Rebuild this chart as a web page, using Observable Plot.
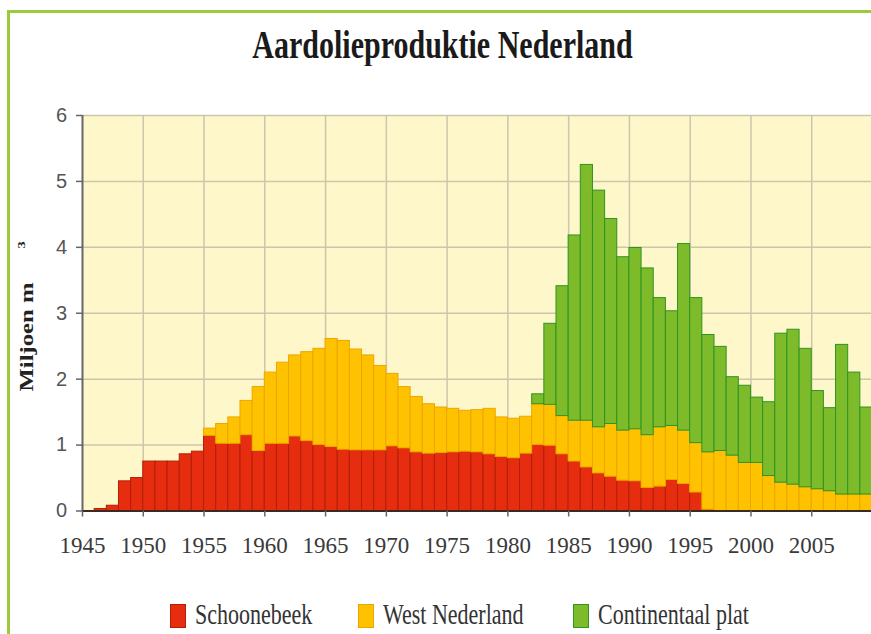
<!DOCTYPE html>
<html><head><meta charset="utf-8">
<script src="https://cdn.jsdelivr.net/npm/d3@7"></script>
<script src="https://cdn.jsdelivr.net/npm/@observablehq/plot@0.6"></script>
<style>
html,body{margin:0;padding:0;background:#fff;}
#wrap{position:relative;width:871px;height:634px;overflow:hidden;background:#fff;}
#frame{position:absolute;left:7px;top:10px;width:1000px;height:1000px;border-left:3px solid #9BCB3A;border-top:3px solid #9BCB3A;}
#chart{position:absolute;left:0;top:0;max-width:none !important;}
#title{position:absolute;left:0;top:33px;width:885px;text-align:center;font:bold 30px "Liberation Serif";line-height:30px;color:#1a1a1a;transform:scaleY(1.3);transform-origin:50% 25px;white-space:nowrap;}
.ylab{position:absolute;white-space:nowrap;font-family:"Liberation Serif";font-weight:bold;color:#222;}
.sw{position:absolute;top:604px;width:14px;height:22px;border:1px solid;}
.lt{position:absolute;top:606px;font:22px "Liberation Serif";line-height:22px;color:#333;transform:scaleY(1.3);transform-origin:0 18px;white-space:nowrap;}
</style></head><body><div id="wrap">
<div id="frame"></div>
<div id="title">Aardolieproduktie Nederland</div>
<div class="ylab" id="ylab1" style="left:27px;top:337px;font-size:19px;transform:translate(-50%,-50%) rotate(-90deg) scaleX(1.3);">Miljoen m</div>
<div class="ylab" id="ylab2" style="left:21px;top:245px;font-size:11px;transform:translate(-50%,-50%) rotate(-90deg) scaleX(1.3);">3</div>
<div id="legend"></div>
</div>
<script>
const years = d3.range(1945, 2010);
const seriesNames = ["Schoonebeek", "West Nederland", "Continentaal plat"];
const schoonebeek = [
  0, 0.03, 0.08, 0.45, 0.50,
  0.75, 0.75, 0.75, 0.86, 0.90,
  1.14, 1.02, 1.02, 1.15, 0.91,
  1.02, 1.02, 1.13, 1.06, 1.00,
  0.97, 0.93, 0.92, 0.92, 0.92,
  0.98, 0.95, 0.89, 0.87, 0.88,
  0.89, 0.90, 0.89, 0.86, 0.82,
  0.80, 0.87, 1.00, 0.99, 0.86,
  0.75, 0.66, 0.57, 0.52, 0.46,
  0.45, 0.35, 0.37, 0.47, 0.41,
  0.28, 0.02, 0, 0, 0,
  0, 0, 0, 0, 0,
  0, 0, 0, 0, 0
];
const westNederland = [
  0, 0, 0, 0, 0,
  0, 0, 0, 0, 0,
  0.11, 0.30, 0.40, 0.52, 0.97,
  1.08, 1.23, 1.23, 1.35, 1.46,
  1.64, 1.65, 1.53, 1.44, 1.28,
  1.10, 0.93, 0.84, 0.75, 0.69,
  0.66, 0.62, 0.64, 0.69, 0.60,
  0.60, 0.56, 0.62, 0.62, 0.58,
  0.62, 0.71, 0.70, 0.80, 0.76,
  0.79, 0.80, 0.90, 0.82, 0.81,
  0.75, 0.87, 0.91, 0.84, 0.73,
  0.73, 0.53, 0.43, 0.40, 0.36,
  0.33, 0.30, 0.25, 0.25, 0.25
];
const continentaalPlat = [
  0, 0, 0, 0, 0,
  0, 0, 0, 0, 0,
  0, 0, 0, 0, 0,
  0, 0, 0, 0, 0,
  0, 0, 0, 0, 0,
  0, 0, 0, 0, 0,
  0, 0, 0, 0, 0,
  0, 0, 0.15, 1.23, 1.97,
  2.81, 3.88, 3.59, 3.11, 2.63,
  2.75, 2.53, 1.96, 1.74, 2.83,
  2.20, 1.78, 1.58, 1.19, 1.17,
  0.99, 1.12, 2.26, 2.35, 2.10,
  1.49, 1.26, 2.27, 1.85, 1.32
];
const xTickYears = [1945, 1950, 1955, 1960, 1965, 1970, 1975, 1980, 1985, 1990, 1995, 2000, 2005];
const yTickValues = [0, 1, 2, 3, 4, 5, 6];

const fillColors = {"Schoonebeek": "#E62D10", "West Nederland": "#FFC200", "Continentaal plat": "#7DBB2B"};
const strokeColors = {"Schoonebeek": "#B41E08", "West Nederland": "#EDA600", "Continentaal plat": "#2F9420"};

const seriesValues = [schoonebeek, westNederland, continentaalPlat];
const rows = [];
seriesNames.forEach((s, k) => years.forEach((yr, i) => rows.push({year: yr, series: s, value: seriesValues[k][i]})));

const chart = Plot.plot({
  width: 900, height: 634,
  marginLeft: 82, marginRight: 28, marginTop: 115, marginBottom: 123.5,
  x: {domain: [1945, 2010], axis: null},
  y: {domain: [0, 6], axis: null},
  color: {type: "identity"},
  style: {background: "transparent", overflow: "visible", maxWidth: "none"},
  marks: [
    Plot.frame({fill: "#FEF7CA", stroke: null}),
    Plot.ruleY(yTickValues, {stroke: "#CCC6AB", strokeWidth: 1.5}),
    Plot.ruleX(xTickYears.slice(1), {stroke: "#CCC6AB", strokeWidth: 1.5}),
    Plot.rectY(rows, {
      filter: d => d.value > 0,
      x1: "year", x2: d => d.year + 1, y: "value",
      fill: d => fillColors[d.series], stroke: d => strokeColors[d.series], strokeWidth: 1
    }),
    Plot.ruleX([1945], {stroke: "#666", strokeWidth: 2}),
    Plot.ruleY([0], {stroke: "#3a2a20", strokeWidth: 2}),
    Plot.ruleY(yTickValues, {x1: 1945, x2: 1945, insetLeft: -6, stroke: "#666", strokeWidth: 1.5}),
    Plot.ruleX(xTickYears, {y1: 0, y2: 0, insetBottom: -6, stroke: "#666", strokeWidth: 1.5}),
    Plot.text(xTickYears, {x: d => d, y: 0, text: d => String(d), dy: 34.5, fontFamily: "Liberation Serif", fontSize: 23, fill: "#3a3a3a", ariaLabel: "xticklabels"}),
    Plot.text(yTickValues, {x: 1945, y: d => d, text: d => String(d), dx: -21, fontFamily: "Liberation Sans", fontSize: 20, fill: "#555", ariaLabel: "yticklabels"})
  ]
});
chart.id = "chart";
chart.style.maxWidth = "none";
document.getElementById("wrap").appendChild(chart);
d3.select(chart).selectAll('g[aria-label="xticklabels"] text').attr("textLength", 36).attr("lengthAdjust", "spacingAndGlyphs");
d3.select(chart).selectAll('g[aria-label="yticklabels"] text').attr("textLength", 10).attr("lengthAdjust", "spacingAndGlyphs");

const legendPos = [{sw: 170, tx: 195}, {sw: 358, tx: 383}, {sw: 573, tx: 598}];
const legend = document.getElementById("legend");
seriesNames.forEach((s, k) => {
  const sw = document.createElement("div");
  sw.className = "sw";
  sw.style.left = legendPos[k].sw + "px";
  sw.style.background = fillColors[s];
  sw.style.borderColor = strokeColors[s];
  legend.appendChild(sw);
  const t = document.createElement("div");
  t.className = "lt";
  t.style.left = legendPos[k].tx + "px";
  t.textContent = s;
  legend.appendChild(t);
});
</script>
</body></html>
